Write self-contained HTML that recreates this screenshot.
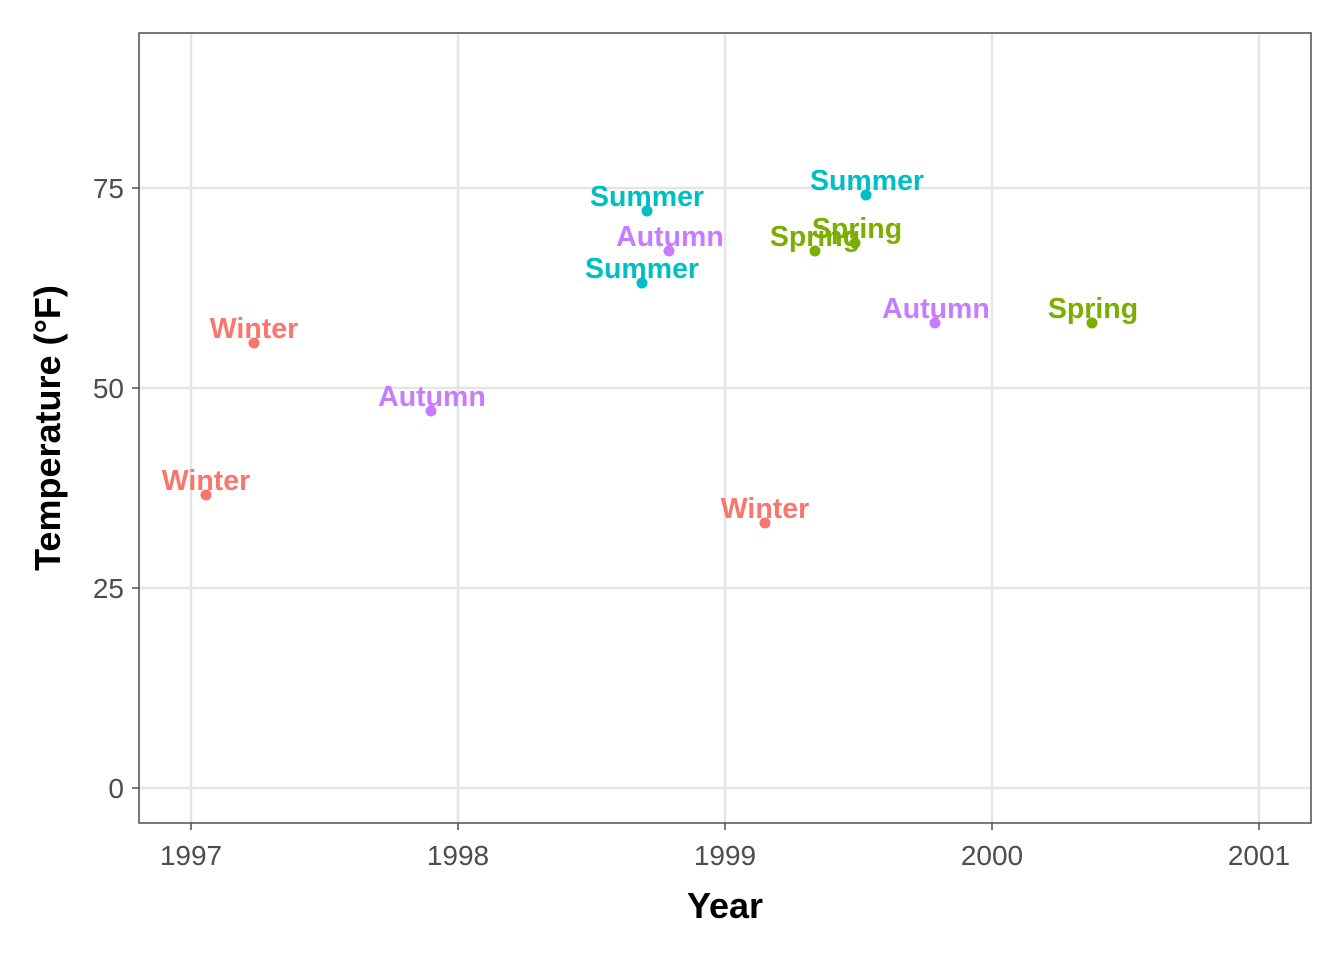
<!DOCTYPE html>
<html><head><meta charset="utf-8"><style>body{margin:0;background:#fff}svg{display:block}</style></head><body>
<svg width="1344" height="960" xmlns="http://www.w3.org/2000/svg">
<rect width="1344" height="960" fill="#fff"/>
<g stroke="#e5e5e5" stroke-width="2.5">
<line x1="191" y1="33" x2="191" y2="823"/><line x1="458" y1="33" x2="458" y2="823"/><line x1="725" y1="33" x2="725" y2="823"/><line x1="992" y1="33" x2="992" y2="823"/><line x1="1259" y1="33" x2="1259" y2="823"/>
<line x1="139" y1="788" x2="1311" y2="788"/><line x1="139" y1="588" x2="1311" y2="588"/><line x1="139" y1="388" x2="1311" y2="388"/><line x1="139" y1="188" x2="1311" y2="188"/>
</g>
<rect x="139" y="33" width="1172" height="790" fill="none" stroke="#4d4d4d" stroke-width="1.5"/>
<g stroke="#4d4d4d" stroke-width="1.5">
<line x1="132" y1="788" x2="139" y2="788"/><line x1="132" y1="588" x2="139" y2="588"/><line x1="132" y1="388" x2="139" y2="388"/><line x1="132" y1="188" x2="139" y2="188"/>
<line x1="191" y1="823" x2="191" y2="830"/><line x1="458" y1="823" x2="458" y2="830"/><line x1="725" y1="823" x2="725" y2="830"/><line x1="992" y1="823" x2="992" y2="830"/><line x1="1259" y1="823" x2="1259" y2="830"/>
</g>
<g font-family="'Liberation Sans Narrow','Liberation Sans',sans-serif" font-size="28" fill="#4d4d4d">
<g text-anchor="end"><text x="124" y="798">0</text><text x="124" y="598">25</text><text x="124" y="398">50</text><text x="124" y="198">75</text></g>
<g text-anchor="middle"><text x="191" y="865">1997</text><text x="458" y="865">1998</text><text x="725" y="865">1999</text><text x="992" y="865">2000</text><text x="1259" y="865">2001</text></g>
</g>
<g font-family="'Liberation Sans Narrow','Liberation Sans',sans-serif" font-size="36" font-weight="bold" fill="#000" text-anchor="middle">
<text x="725" y="918">Year</text>
<text transform="translate(60,428) rotate(-90)">Temperature (°F)</text>
</g>
<g font-family="'Liberation Sans',sans-serif" font-size="28.5" font-weight="bold" text-anchor="middle">
<g fill="#F8766D"><circle cx="254" cy="343" r="5.5"/><circle cx="206" cy="495" r="5.5"/><circle cx="765" cy="523" r="5.5"/>
<text x="254" y="338">Winter</text><text x="206" y="490">Winter</text><text x="765" y="518">Winter</text></g>
<g fill="#C77CFF"><circle cx="431" cy="411" r="5.5"/><circle cx="669" cy="251" r="5.5"/><circle cx="935" cy="323" r="5.5"/>
<text x="432" y="406">Autumn</text><text x="670" y="246">Autumn</text><text x="936" y="318">Autumn</text></g>
<g fill="#00BFC4"><circle cx="647" cy="211" r="5.5"/><circle cx="642" cy="283" r="5.5"/><circle cx="866" cy="195" r="5.5"/>
<text x="647" y="206">Summer</text><text x="642" y="278">Summer</text><text x="867" y="190">Summer</text></g>
<g fill="#7CAE00"><circle cx="815" cy="251" r="5.5"/><circle cx="855" cy="243" r="5.5"/><circle cx="1092" cy="323" r="5.5"/>
<text x="815" y="246">Spring</text><text x="857" y="238">Spring</text><text x="1093" y="318">Spring</text></g>
</g>
</svg>
</body></html>
